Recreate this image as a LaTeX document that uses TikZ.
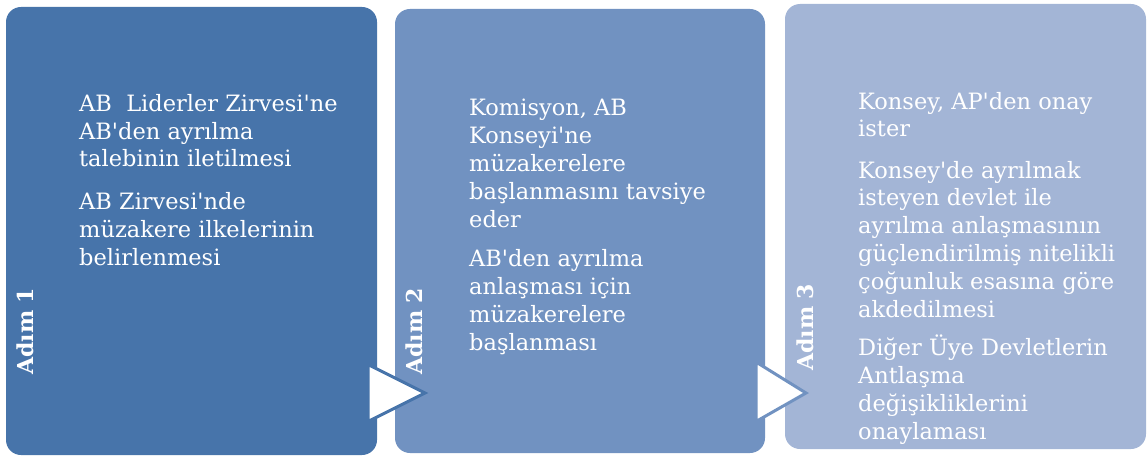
\documentclass[tikz,border=0pt]{standalone}
\usepackage{fontspec}
\setmainfont{DejaVu Serif}[Ligatures=TeXOff]
\definecolor{cA}{RGB}{71,116,170}
\definecolor{cB}{RGB}{113,146,193}
\definecolor{cC}{RGB}{163,181,214}
\begin{document}
\begin{tikzpicture}[x=1pt,y=-1pt,
  stepbox/.style={rounded corners=15pt},
  txt/.style={anchor=base west,align=left,inner sep=0pt,text=white,font=\fontsize{22.5}{27.8}\selectfont},
  lbl/.style={anchor=base west,rotate=90,inner sep=0pt,text=white,font=\fontsize{22}{26}\selectfont\bfseries},
  tri/.style={fill=white,line width=3pt,line join=miter}]
\useasboundingbox (0,0) rectangle (1147,457);
\fill[stepbox,cA] (6,7) rectangle (377,455);
\fill[stepbox,cB] (395,9) rectangle (765,453);
\fill[stepbox,cC] (785,4) rectangle (1146,449);
\node[lbl] (l1) at (33,375) {Adım 1};
\node[lbl] (l2) at (422,375) {Adım 2};
\node[lbl] (l3) at (813,371) {Adım 3};
% anchors are at the baseline of each paragraph's last line
\node[txt] (t1a) at (79,167) {AB\ \ Liderler Zirvesi'ne\\AB'den ayrılma\\talebinin iletilmesi};
\node[txt] (t1b) at (79,265) {AB Zirvesi'nde\\müzakere ilkelerinin\\belirlenmesi};
\node[txt] (t2a) at (469,227) {Komisyon, AB\\Konseyi'ne\\müzakerelere\\başlanmasını tavsiye\\eder};
\node[txt] (t2b) at (469,350) {AB'den ayrılma\\anlaşması için\\müzakerelere\\başlanması};
\node[txt] (t3a) at (858,137) {Konsey, AP'den onay\\ister};
\node[txt] (t3b) at (858,317) {Konsey'de ayrılmak\\isteyen devlet ile\\ayrılma anlaşmasının\\güçlendirilmiş nitelikli\\çoğunluk esasına göre\\akdedilmesi};
\node[txt] (t3c) at (858,439) {Diğer Üye Devletlerin\\Antlaşma\\değişikliklerini\\onaylaması};
\draw[tri,draw=cA] (368,364.5) -- (425,393) -- (368,421.5) -- cycle;
\draw[tri,draw=cB] (756,362) -- (806,393) -- (756,421.5) -- cycle;
\end{tikzpicture}
\end{document}
